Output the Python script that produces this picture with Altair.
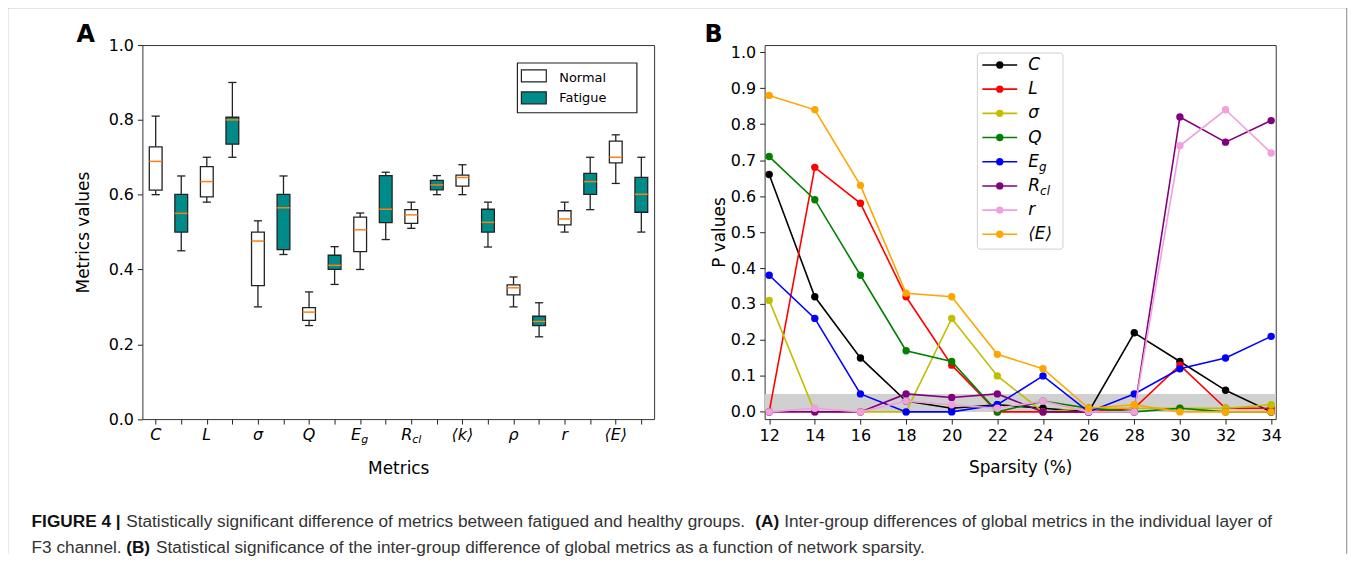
import altair as alt
import pandas as pd

# ---------------- Panel A data (box summaries) ----------------
metric_main = ["C", "L", "σ", "Q", "E", "R", "⟨k⟩", "ρ", "r", "⟨E⟩"]
metric_sub = ["", "", "", "", "g", "cl", "", "", "", ""]
groups = ["Normal", "Fatigue"]

normal_low = [0.600, 0.580, 0.300, 0.250, 0.400, 0.510, 0.600, 0.300, 0.500, 0.630]
normal_q1 = [0.612, 0.594, 0.357, 0.264, 0.448, 0.523, 0.623, 0.332, 0.519, 0.685]
normal_med = [0.689, 0.635, 0.476, 0.286, 0.506, 0.546, 0.646, 0.351, 0.535, 0.700]
normal_q3 = [0.728, 0.675, 0.500, 0.298, 0.540, 0.560, 0.652, 0.359, 0.557, 0.743]
normal_high = [0.810, 0.700, 0.530, 0.340, 0.551, 0.580, 0.680, 0.380, 0.580, 0.760]

fatigue_low = [0.450, 0.700, 0.440, 0.360, 0.480, 0.600, 0.460, 0.220, 0.560, 0.500]
fatigue_q1 = [0.500, 0.735, 0.453, 0.400, 0.525, 0.613, 0.500, 0.250, 0.601, 0.553]
fatigue_med = [0.550, 0.800, 0.565, 0.411, 0.561, 0.626, 0.526, 0.261, 0.635, 0.601]
fatigue_q3 = [0.601, 0.807, 0.601, 0.438, 0.651, 0.638, 0.561, 0.275, 0.657, 0.646]
fatigue_high = [0.650, 0.900, 0.650, 0.461, 0.660, 0.651, 0.580, 0.311, 0.700, 0.700]

# ---------------- Panel B data (P values vs sparsity) ----------------
sparsity = [12, 14, 16, 18, 20, 22, 24, 26, 28, 30, 32, 34]
series_ids = ["C", "L", "sigma", "Q", "Eg", "Rcl", "r", "E"]
legend_main = ["C", "L", "σ", "Q", "E", "R", "r", "⟨E⟩"]
legend_sub = ["", "", "", "", "g", "cl", "", ""]
series_colors = ["#000000", "#ff0000", "#bfbf00", "#008000", "#0000ff", "#800080", "#f0a0dc", "#ffa500"]
p_C = [0.66, 0.32, 0.15, 0.03, 0.01, 0.02, 0.01, 0.00, 0.22, 0.14, 0.06, 0.00]
p_L = [0.00, 0.68, 0.58, 0.32, 0.13, 0.00, 0.00, 0.00, 0.01, 0.13, 0.01, 0.01]
p_sigma = [0.31, 0.00, 0.00, 0.00, 0.26, 0.10, 0.00, 0.01, 0.01, 0.01, 0.01, 0.02]
p_Q = [0.71, 0.59, 0.38, 0.17, 0.14, 0.00, 0.03, 0.01, 0.00, 0.01, 0.00, 0.00]
p_Eg = [0.38, 0.26, 0.05, 0.00, 0.00, 0.02, 0.10, 0.00, 0.05, 0.12, 0.15, 0.21]
p_Rcl = [0.00, 0.00, 0.00, 0.05, 0.04, 0.05, 0.00, 0.00, 0.00, 0.82, 0.75, 0.81]
p_r = [0.00, 0.01, 0.00, 0.03, 0.02, 0.01, 0.03, 0.00, 0.00, 0.74, 0.84, 0.72]
p_E = [0.88, 0.84, 0.63, 0.33, 0.32, 0.16, 0.12, 0.01, 0.02, 0.00, 0.00, 0.00]
p_series = [p_C, p_L, p_sigma, p_Q, p_Eg, p_Rcl, p_r, p_E]
sig_lo, sig_hi = 0.0, 0.05

caption_line1 = [
    ("FIGURE 4 |", "bold"),
    ("Statistically significant difference of metrics between fatigued and healthy groups.", "normal"),
    ("(A)", "bold"),
    ("Inter-group differences of global metrics in the individual layer of", "normal"),
]
caption_line2 = [
    ("F3 channel.", "normal"),
    ("(B)", "bold"),
    ("Statistical significance of the inter-group difference of global metrics as a function of network sparsity.", "normal"),
]

# ---------------- layout constants ----------------
WA, HA = 514, 375.7
WB, HB = 513.4, 375.7
OXA, OYA = 143.3, 45.0   # page position of panel A plot
OXB = 768.3              # page position of panel B plot
FONT = "DejaVu Sans"
CAPFONT = "Liberation Sans"
CAPSIZE = 17.3

dummy = pd.DataFrame({"a": [0]})


def txt(x, y, s, size, weight="normal", style="normal", font=FONT, color="#000",
        align="left", baseline="alphabetic"):
    return alt.Chart(dummy).mark_text(
        text=s, font=font, fontSize=size, fontWeight=weight, fontStyle=style,
        color=color, align=align, baseline=baseline
    ).encode(x=alt.value(x), y=alt.value(y))


def hrule(x1, x2, y, color, width=1.0):
    return alt.Chart(dummy).mark_rule(color=color, strokeWidth=width).encode(
        x=alt.value(x1), x2=alt.value(x2), y=alt.value(y))


def vrule(x, y1, y2, color, width=1.0):
    return alt.Chart(dummy).mark_rule(color=color, strokeWidth=width).encode(
        x=alt.value(x), y=alt.value(y1), y2=alt.value(y2))


# ---------------- Panel A ----------------
rows = []
for i in range(len(metric_main)):
    rows.append(dict(group="Normal", pos=2 * i + 1, low=normal_low[i], q1=normal_q1[i],
                     med=normal_med[i], q3=normal_q3[i], high=normal_high[i]))
    rows.append(dict(group="Fatigue", pos=2 * i + 2, low=fatigue_low[i], q1=fatigue_q1[i],
                     med=fatigue_med[i], q3=fatigue_q3[i], high=fatigue_high[i]))
df_box = pd.DataFrame(rows)
df_lab = pd.DataFrame({"pos": [2 * i + 1 for i in range(len(metric_main))],
                       "main": metric_main, "sub": metric_sub})

xA_scale = alt.Scale(domain=[0.48, 20.5], nice=False, zero=False)
yA_scale = alt.Scale(domain=[0, 1], nice=False, zero=False)
xA_axis = alt.Axis(values=list(range(1, 21)), labels=False, title="Metrics", titlePadding=36)
yA_axis = alt.Axis(values=[0, 0.2, 0.4, 0.6, 0.8, 1.0], format=".1f", title="Metrics values",
                   titlePadding=16)


def XA(f):
    return alt.X(f"{f}:Q", scale=xA_scale, axis=xA_axis)


def YA(f):
    return alt.Y(f"{f}:Q", scale=yA_scale, axis=yA_axis)


baseA = alt.Chart(df_box).transform_calculate(
    bl="datum.pos - 0.25", br="datum.pos + 0.25",
    cl="datum.pos - 0.16", cr="datum.pos + 0.16")

whisk_lo = baseA.mark_rule(color="#222", strokeWidth=1.3).encode(x=XA("pos"), y=YA("low"), y2="q1")
whisk_hi = baseA.mark_rule(color="#222", strokeWidth=1.3).encode(x=XA("pos"), y=YA("q3"), y2="high")
cap_lo = baseA.mark_rule(color="#222", strokeWidth=1.3).encode(x=XA("cl"), x2="cr", y=YA("low"))
cap_hi = baseA.mark_rule(color="#222", strokeWidth=1.3).encode(x=XA("cl"), x2="cr", y=YA("high"))
boxes = baseA.mark_rect(stroke="#222", strokeWidth=1.3).encode(
    x=XA("bl"), x2="br", y=YA("q1"), y2="q3",
    fill=alt.Fill("group:N", scale=alt.Scale(domain=groups, range=["#ffffff", "#008b8b"]), legend=None))
medians = baseA.mark_rule(color="#ff7f0e", strokeWidth=1.5).encode(x=XA("bl"), x2="br", y=YA("med"))

lab_plain = alt.Chart(df_lab).transform_filter("datum.sub == ''").mark_text(
    font=FONT, fontStyle="italic", fontSize=16, align="center", baseline="middle", color="#000"
).encode(x=XA("pos"), y=alt.value(HA + 16), text="main:N")
lab_main = alt.Chart(df_lab).transform_filter("datum.sub != ''").mark_text(
    font=FONT, fontStyle="italic", fontSize=16, align="right", baseline="middle", dx=1, color="#000"
).encode(x=XA("pos"), y=alt.value(HA + 16), text="main:N")
lab_sub = alt.Chart(df_lab).transform_filter("datum.sub != ''").mark_text(
    font=FONT, fontStyle="italic", fontSize=11, align="left", baseline="middle", dx=1, color="#000"
).encode(x=XA("pos"), y=alt.value(HA + 21), text="sub:N")


def ax(px):
    return px - OXA


def ay(py):
    return py - OYA


legA = [
    alt.Chart(dummy).mark_rect(fill="#ffffff", stroke="#222", strokeWidth=1.2).encode(
        x=alt.value(ax(520)), x2=alt.value(ax(640)), y=alt.value(ay(63)), y2=alt.value(ay(113))),
    alt.Chart(dummy).mark_rect(fill="#ffffff", stroke="#222", strokeWidth=1.2).encode(
        x=alt.value(ax(524)), x2=alt.value(ax(549)), y=alt.value(ay(70)), y2=alt.value(ay(82))),
    alt.Chart(dummy).mark_rect(fill="#008b8b", stroke="#222", strokeWidth=1.2).encode(
        x=alt.value(ax(524)), x2=alt.value(ax(549)), y=alt.value(ay(92)), y2=alt.value(ay(104))),
    txt(ax(562), ay(78), groups[0], 13, baseline="middle"),
    txt(ax(562), ay(98), groups[1], 13, baseline="middle"),
]

frame = [
    vrule(ax(8), ay(7.5), ay(556), "#888"),
    hrule(ax(8), ax(1353), ay(7.5), "#888"),
    vrule(ax(1353), ay(7.5), ay(556), "#888"),
]
letterA = txt(ax(77), ay(42), "A", 24, weight="bold")

cap_x1 = [32, 127, 759, 788]
cap_x2 = [32, 127, 157]
caption = []
for (s, w), px in zip(caption_line1, cap_x1):
    caption.append(txt(ax(px), ay(529), s, CAPSIZE, weight=w, font=CAPFONT,
                       color="#111" if w == "bold" else "#333"))
for (s, w), px in zip(caption_line2, cap_x2):
    caption.append(txt(ax(px), ay(555), s, CAPSIZE, weight=w, font=CAPFONT,
                       color="#111" if w == "bold" else "#333"))

panelA = alt.layer(
    whisk_lo, whisk_hi, cap_lo, cap_hi, boxes, medians, lab_plain, lab_main, lab_sub,
    *legA, *frame, letterA, *caption
).properties(width=WA, height=HA)

# ---------------- Panel B ----------------
recs = []
for sid, vals in zip(series_ids, p_series):
    for xv, pv in zip(sparsity, vals):
        recs.append(dict(series=sid, sparsity=xv, p=pv))
df_p = pd.DataFrame(recs)

xB_scale = alt.Scale(domain=[11.8, 34.2], nice=False, zero=False)
yB_scale = alt.Scale(domain=[-0.02, 1.02], nice=False, zero=False)
xB_axis = alt.Axis(values=sparsity, format="d", title="Sparsity (%)", titlePadding=16)
yB_axis = alt.Axis(values=[round(0.1 * k, 1) for k in range(11)], format=".1f", title="P values",
                   titlePadding=2)


def XB(f):
    return alt.X(f"{f}:Q", scale=xB_scale, axis=xB_axis)


def YB(f):
    return alt.Y(f"{f}:Q", scale=yB_scale, axis=yB_axis)


band = alt.Chart(pd.DataFrame({"lo": [sig_lo], "hi": [sig_hi]})).mark_rect(color="#d0d0d0").encode(
    x=alt.value(0), x2=alt.value(WB), y=YB("lo"), y2="hi")

series_layers = []
for sid, col in zip(series_ids, series_colors):
    b = alt.Chart(df_p).transform_filter(alt.datum.series == sid)
    series_layers.append(b.mark_line(color=col, strokeWidth=1.6).encode(x=XB("sparsity"), y=YB("p")))
    series_layers.append(b.mark_circle(color=col, size=55, opacity=1).encode(x=XB("sparsity"), y=YB("p")))


def bx(px):
    return px - OXB


legB = [alt.Chart(dummy).mark_rect(fill="#ffffff", stroke="#cccccc", strokeWidth=1, cornerRadius=3,
                                   opacity=0.9).encode(
    x=alt.value(bx(982)), x2=alt.value(bx(1068)), y=alt.value(ay(53)), y2=alt.value(ay(250)))]
for i, (m, sb, col) in enumerate(zip(legend_main, legend_sub, series_colors)):
    yy = ay(65 + i * 24.3)
    legB.append(hrule(bx(987), bx(1022), yy, col, 1.6))
    legB.append(alt.Chart(dummy).mark_circle(color=col, size=55, opacity=1).encode(
        x=alt.value(bx(1004.5)), y=alt.value(yy)))
    legB.append(txt(bx(1033), yy, m, 17, style="italic", baseline="middle"))
    if sb:
        off = 11 if m == "E" else 12
        legB.append(txt(bx(1033 + off), yy + 5, sb, 12, style="italic", baseline="middle"))

letterB = txt(bx(708), ay(42), "B", 24, weight="bold")

panelB = alt.layer(band, *series_layers, *legB, letterB).properties(width=WB, height=HB)

chart = alt.hconcat(panelA, panelB, spacing=OXB - OXA - WA, bounds="flush").properties(
    padding={"left": -2, "top": -3, "right": 0, "bottom": 0}
).configure_view(
    stroke="#333", strokeWidth=1
).configure_axis(
    labelFont=FONT, labelFontSize=16, labelColor="#000", labelPadding=4,
    titleFont=FONT, titleFontSize=17, titleFontWeight="normal", titleColor="#000",
    tickColor="#222", tickSize=5, domain=False, grid=False
)

chart.save("out.html", embed_options={"renderer": "svg", "actions": False})
